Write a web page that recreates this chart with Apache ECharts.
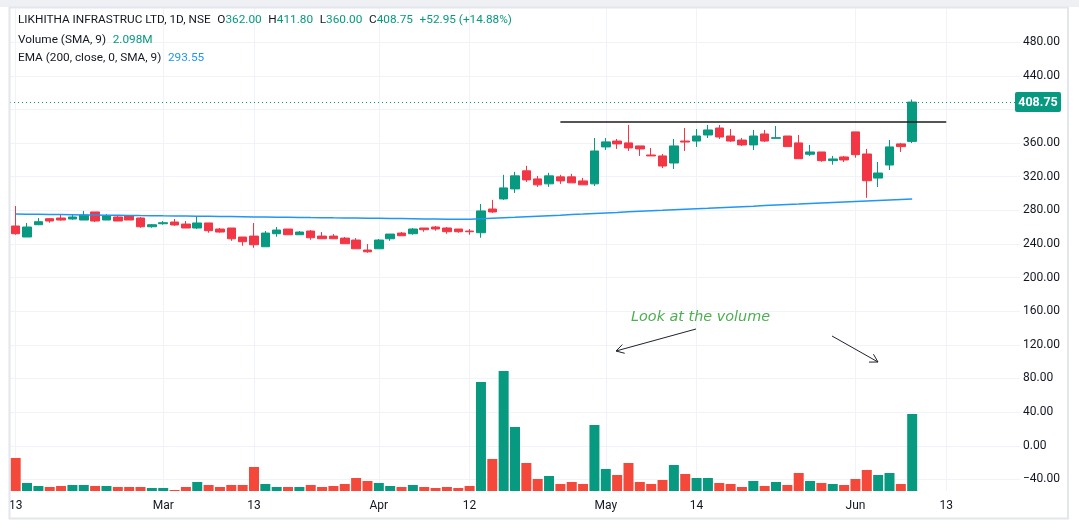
<!DOCTYPE html>
<html><head><meta charset="utf-8">
<script src="https://cdn.jsdelivr.net/npm/echarts@6/dist/echarts.min.js"></script>
<style>html,body{margin:0;padding:0;background:#fff;}#c{width:1079px;height:529px;}</style>
</head><body><div id="c"></div>
<script>
// ---------- DATA ----------
const dates = [
 '2024-02-13','2024-02-14','2024-02-15','2024-02-16','2024-02-19','2024-02-20','2024-02-21','2024-02-22','2024-02-23','2024-02-26','2024-02-27','2024-02-28','2024-02-29',
 '2024-03-01','2024-03-02','2024-03-04','2024-03-05','2024-03-06','2024-03-07','2024-03-11','2024-03-12','2024-03-13','2024-03-14','2024-03-15','2024-03-18','2024-03-19','2024-03-20','2024-03-21','2024-03-22','2024-03-26','2024-03-27','2024-03-28',
 '2024-04-01','2024-04-02','2024-04-03','2024-04-04','2024-04-05','2024-04-08','2024-04-09','2024-04-10','2024-04-12','2024-04-15','2024-04-16','2024-04-18','2024-04-19','2024-04-22','2024-04-23','2024-04-24','2024-04-25','2024-04-26','2024-04-29','2024-04-30',
 '2024-05-02','2024-05-03','2024-05-06','2024-05-07','2024-05-08','2024-05-09','2024-05-10','2024-05-13','2024-05-14','2024-05-15','2024-05-16','2024-05-17','2024-05-18','2024-05-21','2024-05-22','2024-05-23','2024-05-24','2024-05-27','2024-05-28','2024-05-29','2024-05-30','2024-05-31',
 '2024-06-03','2024-06-04','2024-06-05','2024-06-06','2024-06-07','2024-06-10',
 '2024-06-11','2024-06-12','2024-06-13','2024-06-14','2024-06-17','2024-06-18','2024-06-19','2024-06-20','2024-06-21'
];
const opens  = [261.4,248.3,262.9,270.1,270.9,269.7,268.5,278.1,268.5,272.1,273.3,270.9,260.5,264.1,266.1,263.7,259.0,265.0,257.8,259.0,248.3,249.4,236.7,252.2,257.8,251.0,255.4,249.4,249.4,247.0,244.7,232.8,234.3,246.2,253.0,252.2,259.0,260.2,259.0,257.8,255.4,253.4,281.6,293.6,305.5,327.0,317.4,311.5,319.8,319.8,315.0,311.5,355.4,362.4,360.2,356.6,345.8,344.7,336.3,362.4,362.4,369.6,377.9,368.4,363.6,357.8,370.8,365.6,368.4,360.2,346.7,349.4,339.1,343.5,373.3,347.0,318.4,333.9,359.0,362.0];
const closes = [252.2,260.2,266.5,267.3,268.5,272.1,274.5,267.3,273.3,267.3,268.5,260.5,262.9,265.3,262.6,259.0,265.0,255.8,254.2,246.2,242.7,239.1,253.0,256.6,251.0,254.2,247.4,246.2,246.2,240.3,234.3,230.7,244.7,251.8,249.8,257.8,257.0,257.8,254.6,254.6,254.6,279.3,278.1,306.7,321.0,316.2,310.3,321.0,315.0,312.7,310.3,350.6,361.4,359.0,354.2,353.0,344.7,332.7,356.6,361.2,368.4,375.6,367.2,362.4,357.8,368.4,362.4,366.4,355.8,341.4,349.4,339.1,341.1,339.9,346.2,315.2,324.4,355.4,355.8,408.75];
const lows   = [251.0,248.3,262.5,265.3,267.7,268.9,268.5,266.1,268.5,267.3,268.5,259.3,259.3,262.9,261.7,259.0,257.8,253.4,253.4,243.8,237.9,235.5,236.7,248.6,251.0,251.0,245.0,246.2,246.2,240.3,234.3,229.5,234.3,243.8,249.8,251.0,254.6,255.8,252.2,253.4,251.0,247.4,276.9,292.4,300.7,313.8,307.9,307.9,311.5,312.7,310.3,309.0,351.8,353.0,350.6,344.7,344.7,330.3,329.2,350.6,355.4,366.0,364.9,361.4,356.6,351.8,361.4,365.6,355.8,341.4,344.7,337.8,334.3,337.5,342.6,294.9,307.7,328.0,349.4,360.0];
const highs  = [285.2,265.0,270.9,270.9,274.5,275.7,279.3,278.1,275.7,273.3,274.5,272.1,263.7,267.3,269.7,267.3,272.1,265.0,259.0,259.0,248.3,265.0,255.4,260.2,257.8,255.4,256.6,254.2,251.8,248.3,247.0,239.9,245.9,251.8,254.2,259.0,259.0,261.4,260.2,257.8,257.8,287.6,292.4,322.2,325.8,332.9,321.0,324.6,322.2,323.4,318.6,366.0,366.0,364.9,381.5,356.6,354.2,347.0,364.9,377.9,376.7,381.5,381.5,376.7,366.0,375.6,375.6,380.3,368.4,369.6,357.8,349.4,344.7,344.7,373.3,353.0,337.5,363.7,360.2,411.8];
const volumes = [3.63,0.88,0.55,0.44,0.55,0.66,0.66,0.55,0.55,0.44,0.44,0.44,0.33,0.33,0.11,0.44,0.99,0.66,0.44,0.66,0.66,2.64,0.77,0.44,0.44,0.44,0.66,0.44,0.55,0.77,1.43,1.10,0.88,0.55,0.44,0.66,0.44,0.33,0.44,0.33,0.55,11.98,3.52,13.19,7.03,3.08,1.32,1.65,0.77,0.99,0.77,7.25,2.42,1.76,3.08,0.99,0.77,1.21,2.86,1.87,1.43,1.43,0.88,0.77,0.44,1.10,0.55,0.99,0.66,1.98,1.10,0.88,0.77,0.66,1.32,2.31,1.76,1.98,0.77,8.46];
const ema = [275.6,275.4,275.3,275.1,275.0,274.8,274.6,274.5,274.3,274.2,274.0,273.8,273.7,273.5,273.4,273.2,273.0,272.9,272.7,272.6,272.4,272.2,272.1,271.9,271.8,271.6,271.4,271.3,271.1,271.0,270.8,270.6,270.5,270.3,270.2,270.0,269.8,269.7,269.5,269.4,269.3,269.9,270.6,271.2,271.8,272.5,273.1,273.7,274.3,275.0,275.6,276.3,276.9,277.5,278.2,278.8,279.4,280.0,280.7,281.3,281.9,282.5,283.2,283.8,284.4,285.0,285.7,286.3,286.9,287.5,288.2,288.8,289.4,290.0,290.6,291.2,291.8,292.4,293.0,293.55];
const xTickDates  = ['2024-02-13','2024-03-01','2024-03-13','2024-04-01','2024-04-12','2024-05-02','2024-05-14','2024-06-03','2024-06-13'];
const xTickLabels = ['13','Mar','13','Apr','12','May','14','Jun','13'];
const resistance = {start:'2024-04-25', end:'2024-06-13', price:385};
const titleText = 'LIKHITHA INFRASTRUC LTD, 1D, NSE';
const volumeLegend = 'Volume (SMA, 9)'; const volumeSmaText = '2.098M';
const emaLegend = 'EMA (200, close, 0, SMA, 9)'; const emaText = '293.55';
const noteText = 'Look at the volume';

// ---------- STYLE ----------
const UP = '#089981', DOWN = '#f23645', VUP = '#089981', VDOWN = '#f4483b';
const GRIDC = '#f0f3fa', TXT = '#131722';
const FONT = 'Roboto, "Noto Sans", sans-serif';
const HF = 11.8;

const n = opens.length;
const last = n - 1;
const candleData = opens.map((o, i) => [o, closes[i], lows[i], highs[i]]);
const volData = volumes.map((v, i) => ({value: v, itemStyle: {color: closes[i] >= opens[i] ? VUP : VDOWN}}));

const priceTickCount = (520 - (-40)) / 40 + 1;
const splitColors = [];
for (let k = 0; k < priceTickCount; k++) splitColors.push(k === priceTickCount - 1 ? 'rgba(0,0,0,0)' : GRIDC);

const chart = echarts.init(document.getElementById('c'), null, {renderer: 'canvas'});
const option = {
  animation: false,
  backgroundColor: '#ffffff',
  textStyle: {fontFamily: FONT},
  grid: [
    {left: 10, top: 8.5, width: 1010, bottom: 38, containLabel: false},
    {left: 10, top: 8.5, width: 1010, bottom: 49.6, containLabel: false}
  ],
  xAxis: [
    {type: 'category', gridIndex: 0, data: dates, boundaryGap: true,
     axisLine: {show: false}, axisTick: {show: false},
     axisLabel: {interval: 0, color: TXT, fontSize: 12, margin: 9, fontFamily: FONT,
       formatter: (v) => { const k = xTickDates.indexOf(v); return k >= 0 ? xTickLabels[k] : ''; }},
     splitLine: {show: true, alignWithLabel: true, interval: (i, v) => xTickDates.indexOf(v) >= 0,
       lineStyle: {color: GRIDC, width: 1}}},
    {type: 'category', gridIndex: 1, data: dates, show: false}
  ],
  yAxis: [
    {type: 'value', gridIndex: 0, min: -53.7, max: 520, show: false, splitLine: {show: false}},
    {type: 'value', gridIndex: 0, min: 0, max: 53.02, show: false, splitLine: {show: false}},
    {type: 'value', gridIndex: 1, position: 'right', min: -40, max: 520, interval: 40,
     axisLine: {show: false}, axisTick: {show: false},
     axisLabel: {color: TXT, fontSize: 12, margin: 3, fontFamily: FONT, padding: [3, 0, 0, 0],
       formatter: (v) => v >= 520 ? '' : v.toFixed(2).replace('-', '\u2212')},
     splitLine: {show: true, lineStyle: {color: splitColors, width: 1}}}
  ],
  series: [
    {type: 'bar', name: 'Volume', xAxisIndex: 0, yAxisIndex: 1, data: volData, barWidth: 10, z: 2},
    {type: 'candlestick', name: 'Price', xAxisIndex: 0, yAxisIndex: 0, data: candleData, barWidth: 9, z: 3,
     itemStyle: {color: UP, color0: DOWN, borderColor: UP, borderColor0: DOWN, borderWidth: 1},
     markLine: {silent: true, symbol: ['none', 'none'], animation: false,
       data: [
         [{coord: [resistance.start, resistance.price]}, {coord: [resistance.end, resistance.price]}],
         {yAxis: closes[last], lineStyle: {color: UP, type: [1, 3], width: 1}}
       ],
       lineStyle: {color: '#1c1c1c', width: 1.6, type: 'solid'},
       label: {show: false}}},
    {type: 'line', name: 'EMA', xAxisIndex: 0, yAxisIndex: 0, data: ema, showSymbol: false, z: 4,
     lineStyle: {color: '#2196f3', width: 1.5}}
  ]
};
chart.setOption(option);

// header / annotation graphics (positions from axes where data-driven)
const yLast = chart.convertToPixel({yAxisIndex: 0}, closes[last]);
const chg = closes[last] - closes[last - 1];
const pct = chg / closes[last - 1] * 100;
function arrow(x1, y1, x2, y2) {
  const dx = x2 - x1, dy = y2 - y1, L = Math.hypot(dx, dy), ux = dx / L, uy = dy / L;
  const h = 9, a = Math.PI / 6;
  const p1 = [x2 - h * (ux * Math.cos(a) - uy * Math.sin(a)), y2 - h * (uy * Math.cos(a) + ux * Math.sin(a))];
  const p2 = [x2 - h * (ux * Math.cos(a) + uy * Math.sin(a)), y2 - h * (uy * Math.cos(a) - ux * Math.sin(a))];
  const st = {stroke: '#1e222d', lineWidth: 1, fill: null};
  return [
    {type: 'polyline', shape: {points: [[x1, y1], [x2, y2]]}, style: st, silent: true, z: 50},
    {type: 'polyline', shape: {points: [p1, [x2, y2], p2]}, style: st, silent: true, z: 50}
  ];
}
const rich = (vc) => ({n: {fill: TXT, fontSize: HF, fontFamily: FONT}, v: {fill: vc, fontSize: HF, fontFamily: FONT}});
const g = [
  {type: 'rect', shape: {x: 0, y: 0, width: 1079, height: 7}, style: {fill: '#eef0f4'}, silent: true, z: 40},
  {type: 'rect', shape: {x: 9.5, y: 7.5, width: 1058.5, height: 511}, style: {fill: null, stroke: '#e3e6ec', lineWidth: 2}, silent: true, z: 40},
  {type: 'text', left: 18, top: 14, z: 60, style: {
    text: '{n|' + titleText + '}  {n|O}{v|' + opens[last].toFixed(2) + '}  {n|H}{v|' + highs[last].toFixed(2) + '}  {n|L}{v|' + lows[last].toFixed(2) + '}  {n|C}{v|' + closes[last].toFixed(2) + '}  {v|+' + chg.toFixed(2) + ' (+' + pct.toFixed(2) + '%)}',
    rich: rich(UP)}},
  {type: 'text', left: 18, top: 34.5, z: 60, style: {
    text: '{n|' + volumeLegend + '}  {v|' + volumeSmaText + '}', rich: rich(UP)}},
  {type: 'text', left: 18, top: 52.5, z: 60, style: {
    text: '{n|' + emaLegend + '}  {v|' + emaText + '}', rich: rich('#2196f3')}},
  {type: 'group', z: 60, children: [
    {type: 'rect', shape: {x: 1015, y: yLast - 10, width: 46, height: 20, r: 2}, style: {fill: UP}, z: 60},
    {type: 'text', x: 1038, y: yLast + 0.5, z: 61, style: {text: closes[last].toFixed(2), fill: '#fff', fontSize: 12.5, fontWeight: 'bold', fontFamily: FONT, align: 'center', verticalAlign: 'middle'}}
  ]},
  {type: 'text', x: 631, y: 317, z: 60, style: {text: noteText, fill: '#4caf50', fontSize: 14.4, fontStyle: 'italic', fontFamily: '"DejaVu Sans", sans-serif', verticalAlign: 'middle'}}
].concat(arrow(696, 329, 616, 351)).concat(arrow(832, 336, 878, 362));
chart.setOption({graphic: g});
</script></body></html>
